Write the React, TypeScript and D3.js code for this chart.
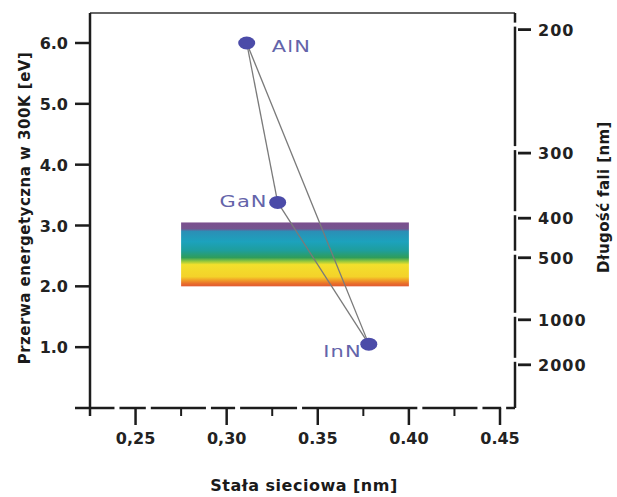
import * as d3 from "d3";

// azotki grupy III: stała sieci vs. przerwa energetyczna
const compounds = ["AlN", "GaN", "InN"];
const latticeNm = [0.311, 0.328, 0.378];
const gapEv = [6.0, 3.38, 1.05];
const links: [number, number][] = [[0, 1], [1, 2], [0, 2]];

const xMajor = [0.25, 0.3, 0.35, 0.4, 0.45];
const xMajorLabels = ["0,25", "0,30", "0.35", "0.40", "0.45"];
const xMinor = [0.225, 0.275, 0.325, 0.375, 0.425];
const yTicks = [1, 2, 3, 4, 5, 6];
const wavelengthTicks = [200, 300, 400, 500, 1000, 2000];
// położenia kresek prawej osi (w eV)
const wavelengthTickEv = [6.22, 4.19, 3.12, 2.47, 1.45, 0.71];

// widmo widzialne
const bandLattice = [0.275, 0.4];
const bandEv = [2.0, 3.05];
const bandColors = [
  ["0", "#7b4f8e"], ["0.1", "#74558f"], ["0.14", "#2b8fb6"], ["0.3", "#1ca2bd"],
  ["0.44", "#1e9e9c"], ["0.55", "#2f9d5a"], ["0.61", "#98c93c"], ["0.66", "#f2e02c"],
  ["0.85", "#f4d22a"], ["0.9", "#f1a127"], ["0.96", "#e86c2b"], ["1", "#e05a32"],
];

// przerwy w dolnej osi (rysunek jest "poszarpany")
const bottomGaps = [0.2398, 0.257, 0.29, 0.306, 0.34, 0.406, 0.439, 0.452];

const labelOffsets = [
  { dx: 25, dy: 9, anchor: "start" },
  { dx: -10, dy: 5, anchor: "end" },
  { dx: -7, dy: 13, anchor: "end" },
];

export default function App() {
  const W = 617, H = 497;
  const left = 90, right = 515, top = 13, bottom = 408;
  const x = d3.scaleLinear().domain([0.225, 0.45]).range([left, 500]);
  const y = d3.scaleLinear().domain([0, 6]).range([bottom, 43]);

  const tickFont = "'DejaVu Sans', sans-serif";
  const axisColor = "#1c1c1c";

  // dolna oś jako odcinki między przerwami
  const gapPx = bottomGaps.map((g) => x(g));
  const bottomSegs: [number, number][] = [];
  let start = 75;
  gapPx.forEach((g) => {
    bottomSegs.push([start, g - 2.5]);
    start = g + 2.5;
  });
  bottomSegs.push([start, right]);

  // prawa oś z przerwami tuż nad kreskami
  const rightGapPx = wavelengthTickEv.map((e) => y(e) - 5);
  const rightSegs: [number, number][] = [];
  let rs = top;
  rightGapPx.forEach((g) => {
    rightSegs.push([rs, g - 2]);
    rs = g + 2;
  });
  rightSegs.push([rs, bottom]);

  const pts = compounds.map((c, i) => ({ name: c, cx: x(latticeNm[i]), cy: y(gapEv[i]) }));

  return (
    <svg width={W} height={H} style={{ position: "absolute", left: 0, top: 0, background: "#fff" }}>
      <defs>
        <linearGradient id="spectrum" x1="0" y1="0" x2="0" y2="1">
          {bandColors.map(([o, c]) => (
            <stop key={o} offset={o} stopColor={c} />
          ))}
        </linearGradient>
      </defs>

      {/* widmo */}
      <rect
        x={x(bandLattice[0])}
        y={y(bandEv[1])}
        width={x(bandLattice[1]) - x(bandLattice[0])}
        height={y(bandEv[0]) - y(bandEv[1])}
        fill="url(#spectrum)"
      />

      {/* ramka górna */}
      <line x1={left} x2={right} y1={top} y2={top} stroke="#333" strokeWidth={1.6} />

      {/* lewa oś */}
      <line x1={left} x2={left} y1={top} y2={416} stroke={axisColor} strokeWidth={2.5} />
      {yTicks.map((t) => (
        <g key={t}>
          <line x1={75} x2={left} y1={y(t)} y2={y(t)} stroke={axisColor} strokeWidth={2.5} />
          <text x={68} y={y(t) + 6} textAnchor="end" fontFamily={tickFont} fontWeight="bold" fontSize={16} fill="#222">
            {d3.format(".1f")(t)}
          </text>
        </g>
      ))}

      {/* dolna oś */}
      {bottomSegs.map(([a, b], i) => (
        <line key={i} x1={a} x2={b} y1={bottom} y2={bottom} stroke={axisColor} strokeWidth={2.5} />
      ))}
      {xMajor.map((t, i) => (
        <g key={t}>
          <line x1={x(t)} x2={x(t)} y1={bottom} y2={425} stroke={axisColor} strokeWidth={2.5} />
          <text x={x(t)} y={444} textAnchor="middle" fontFamily={tickFont} fontWeight="bold" fontSize={16} fill="#222">
            {xMajorLabels[i]}
          </text>
        </g>
      ))}
      {xMinor.map((t) => (
        <line key={t} x1={x(t)} x2={x(t)} y1={bottom} y2={416} stroke={axisColor} strokeWidth={2} />
      ))}

      {/* prawa oś */}
      {rightSegs.map(([a, b], i) => (
        <line key={i} x1={right} x2={right} y1={a} y2={b} stroke={axisColor} strokeWidth={2.5} />
      ))}
      {wavelengthTicks.map((w, i) => (
        <g key={w}>
          <line x1={518} x2={531} y1={y(wavelengthTickEv[i])} y2={y(wavelengthTickEv[i])} stroke={axisColor} strokeWidth={2.8} />
          <text x={538} y={y(wavelengthTickEv[i]) + 6} fontFamily={tickFont} fontWeight="bold" fontSize={16} letterSpacing={1} fill="#222">
            {w}
          </text>
        </g>
      ))}

      {/* trójkąt */}
      {links.map(([a, b], i) => (
        <line key={i} x1={pts[a].cx} y1={pts[a].cy} x2={pts[b].cx} y2={pts[b].cy} stroke="#7a7a7a" strokeWidth={1.3} />
      ))}
      {pts.map((p, i) => (
        <g key={p.name}>
          <ellipse cx={p.cx} cy={p.cy} rx={8.5} ry={6.5} fill="#4b4ba8" />
          <text
            transform={`translate(${p.cx + labelOffsets[i].dx},${p.cy + labelOffsets[i].dy}) scale(1.4,1)`}
            textAnchor={labelOffsets[i].anchor}
            fontFamily={tickFont}
            fontSize={15}
            letterSpacing={0.8}
            fill="#6464aa"
          >
            {p.name}
          </text>
        </g>
      ))}

      {/* tytuły osi */}
      <text transform="translate(30,208) rotate(-90)" textAnchor="middle" fontFamily={tickFont} fontWeight="bold" fontSize={15} letterSpacing={0.5} fill="#1a1a1a">
        Przerwa energetyczna w 300K [eV]
      </text>
      <text transform="translate(609,197) rotate(-90)" textAnchor="middle" fontFamily={tickFont} fontWeight="bold" fontSize={15} letterSpacing={0.4} fill="#1a1a1a">
        Długość fali [nm]
      </text>
      <text x={304} y={491} textAnchor="middle" fontFamily={tickFont} fontWeight="bold" fontSize={16} letterSpacing={0.5} fill="#1a1a1a">
        Stała sieciowa [nm]
      </text>
    </svg>
  );
}
